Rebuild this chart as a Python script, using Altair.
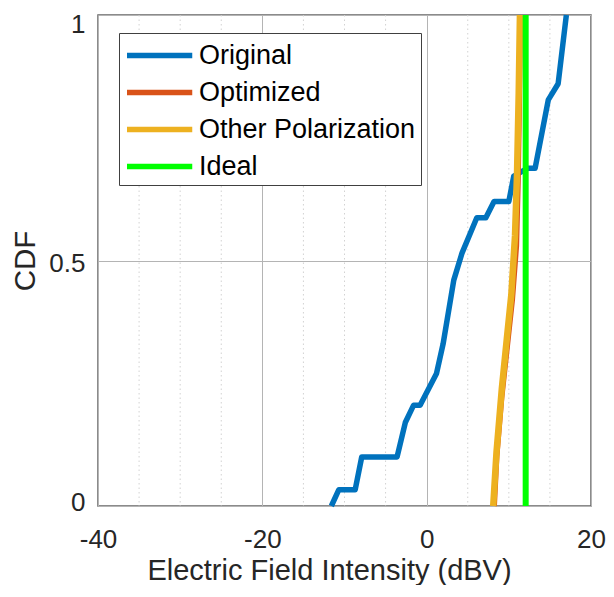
import altair as alt
import pandas as pd

# ---- data ----
series_names = ["Original", "Optimized", "Other Polarization", "Ideal"]
series_colors = ["#0072BD", "#D95319", "#EDB120", "#00FF00"]

orig_x = [-11.6, -10.7, -8.7, -7.9, -3.6, -2.6, -1.6, -0.8, 1.2, 2.0, 3.3, 4.3,
          6.1, 7.2, 8.2, 10.0, 10.6, 12.3, 13.2, 14.8, 16.0, 17.0]
orig_y = [0.0, 0.033, 0.033, 0.10, 0.10, 0.17, 0.205, 0.205, 0.27, 0.33, 0.46, 0.515,
          0.587, 0.587, 0.62, 0.62, 0.672, 0.688, 0.688, 0.827, 0.86, 1.0]

opt_x = [8.25, 8.55, 9.15, 9.8, 10.45, 10.95, 11.15, 11.3, 11.42]
opt_y = [0.0, 0.10, 0.22, 0.32, 0.42, 0.53, 0.66, 0.82, 1.0]

other_x = [8.1, 8.5, 9.15, 9.75, 10.3, 10.75, 11.0, 11.2, 11.35]
other_y = [0.0, 0.11, 0.24, 0.34, 0.43, 0.55, 0.68, 0.84, 1.0]

ideal_x = [12.05, 12.05]
ideal_y = [0.0, 1.0]

x_domain = [-40, 20]
y_domain = [0, 1]
x_ticks = [-40, -20, 0, 20]
x_minor = [-35, -30, -25, -15, -10, -5, 5, 10, 15]
y_ticks = [0, 0.5, 1]

rows = []
for name, xs, ys in zip(series_names,
                        [orig_x, opt_x, other_x, ideal_x],
                        [orig_y, opt_y, other_y, ideal_y]):
    for i, (a, b) in enumerate(zip(xs, ys)):
        rows.append({"series": name, "x": a, "y": b, "i": i})
df = pd.DataFrame(rows)

FONT = "Liberation Sans"
xscale = alt.Scale(domain=x_domain, nice=False, zero=False)
yscale = alt.Scale(domain=y_domain, nice=False, zero=False)

x_axis = alt.Axis(values=x_ticks, grid=True, gridColor="#b4b4b4", gridWidth=1,
                  ticks=False, tickSize=0, domain=False, labelFlush=False,
                  labelExpr="'' + datum.value", labelFont=FONT, labelFontSize=26,
                  labelColor="#262626", labelPadding=20,
                  title="Electric Field Intensity (dBV)", titleFont=FONT,
                  titleFontSize=29, titleFontWeight="normal", titleColor="#262626",
                  titleX=231, titleY=73, titleAlign="center", titleBaseline="alphabetic")
y_axis = alt.Axis(values=y_ticks, grid=True, gridColor="#b4b4b4", gridWidth=1,
                  ticks=False, tickSize=0, domain=False,
                  labelFlush=True, labelFlushOffset=6.5, labelOffset=3,
                  format="~g", labelFont=FONT, labelFontSize=26,
                  labelColor="#262626", labelPadding=13,
                  title="CDF", titleFont=FONT, titleFontSize=29.5,
                  titleFontWeight="normal", titleColor="#262626",
                  titleX=-64, titleY=245.5, titleAngle=270, titleAlign="center",
                  titleBaseline="alphabetic")

minor = alt.Chart(pd.DataFrame({"v": x_minor})).mark_rule(
    color="#d2d2d2", strokeDash=[1.5, 3], strokeWidth=1
).encode(x=alt.X("v:Q", scale=xscale, axis=x_axis))

color = alt.Color(
    "series:N",
    scale=alt.Scale(domain=series_names, range=series_colors),
    legend=alt.Legend(orient="none", legendX=21, legendY=18, title=None,
                      symbolType="M-1,0H3.5", symbolSize=841, symbolStrokeWidth=5.5,
                      labelFont=FONT, labelFontSize=27, labelColor="#000000",
                      labelOffset=40, labelLimit=400, padding=5, rowPadding=6,
                      strokeColor="#404040", fillColor="white", cornerRadius=0),
)

widths = {"Original": 5.5, "Optimized": 5, "Other Polarization": 6.5, "Ideal": 6}
layers = [minor]
for name in series_names:
    layers.append(
        alt.Chart(df).transform_filter(alt.datum.series == name).mark_line(
            strokeWidth=widths[name], strokeJoin="round"
        ).encode(
            x=alt.X("x:Q", scale=xscale, axis=x_axis),
            y=alt.Y("y:Q", scale=yscale, axis=y_axis),
            color=color,
            order="i:Q",
        )
    )

chart = alt.layer(*layers).properties(
    width=493, height=491,
    autosize=alt.AutoSizeParams(type="none"),
    padding={"left": 90, "top": 7, "right": 15, "bottom": 79},
    background="white",
).configure_view(stroke="#666666", strokeWidth=1.5)

chart.save("out.html", embed_options={"renderer": "svg", "actions": False})
